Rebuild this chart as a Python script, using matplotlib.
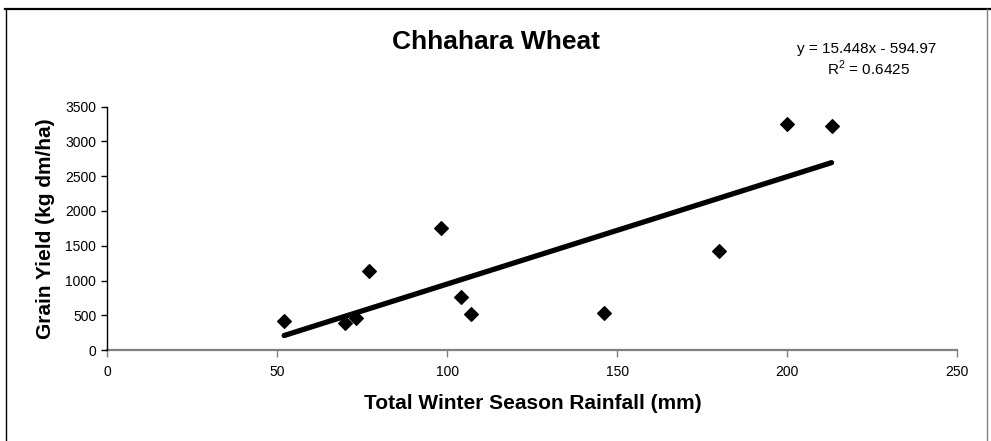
import numpy as np
import matplotlib
matplotlib.use("Agg")
import matplotlib.pyplot as plt
from matplotlib.lines import Line2D

plt.rcParams['font.family'] = ['Liberation Sans', 'DejaVu Sans']
plt.rcParams['mathtext.fontset'] = 'custom'
plt.rcParams['mathtext.rm'] = 'Liberation Sans'

# rainfall (mm) vs grain yield (kg dm/ha)
rainfall = [52, 70, 73, 77, 98, 104, 107, 146, 180, 200, 213]
grain_yield = [420, 390, 455, 1140, 1760, 757, 513, 527, 1430, 3250, 3225]

# linear trend as reported on the chart
slope = 15.448
intercept = -594.97
r_squared = 0.6425

x_ticks = [0, 50, 100, 150, 200, 250]
y_ticks = [0, 500, 1000, 1500, 2000, 2500, 3000, 3500]

fig = plt.figure(figsize=(9.91, 4.41), dpi=100)
ax = fig.add_axes([0.1083, 0.2063, 0.8577, 0.5517])

ax.plot(rainfall, grain_yield, linestyle='none', marker='D', ms=7,
        color='black', mec='black', mew=0.8, zorder=3)

trend_x = np.array([min(rainfall), max(rainfall)])
trend_y = slope * trend_x + intercept
ax.plot(trend_x, trend_y, color='black', lw=3.8, solid_capstyle='round', zorder=2)

ax.set_xlim(0, 250)
ax.set_ylim(0, 3500)
ax.set_xticks(x_ticks)
ax.set_yticks(y_ticks)

for side in ['top', 'right']:
    ax.spines[side].set_visible(False)
ax.spines['left'].set_color('black')
ax.spines['left'].set_linewidth(1.0)
ax.spines['bottom'].set_color('#808080')
ax.spines['bottom'].set_linewidth(1.6)
ax.spines['bottom'].set_zorder(1)

ax.tick_params(axis='y', direction='out', length=4, width=1, color='black',
               labelsize=10, pad=4)
ax.tick_params(axis='x', direction='out', length=5, width=1, color='#808080',
               labelsize=10, pad=6)

ax.set_xlabel('Total Winter Season Rainfall (mm)', fontsize=15, fontweight='bold',
              va='baseline')
ax.xaxis.set_label_coords(0.5, -0.2425)
ax.set_ylabel('Grain Yield (kg dm/ha)', fontsize=15, fontweight='bold', va='center')
ax.yaxis.set_label_coords(-0.073, 0.5)

fig.text(0.5005, 1 - 49 / 441, 'Chhahara Wheat', ha='center', va='baseline',
         fontsize=19, fontweight='bold')
fig.text(867 / 991, 1 - 53 / 441, f'y = {slope}x - {abs(intercept)}',
         ha='center', va='baseline', fontsize=11)
fig.text(868 / 991, 1 - 75 / 441, f'R$^2$ = {r_squared}',
         ha='center', va='baseline', fontsize=11)

# chart frame
fig.add_artist(Line2D([5 / 991, 1], [1 - 8.5 / 441] * 2, color='black', lw=1.6,
                      transform=fig.transFigure))
fig.add_artist(Line2D([5.7 / 991] * 2, [0, 1 - 8.5 / 441], color='black', lw=1.0,
                      transform=fig.transFigure))
fig.add_artist(Line2D([986.5 / 991] * 2, [0, 1 - 8.5 / 441], color='#808080', lw=1.0,
                      transform=fig.transFigure))

fig.savefig('out.png', dpi=100)
